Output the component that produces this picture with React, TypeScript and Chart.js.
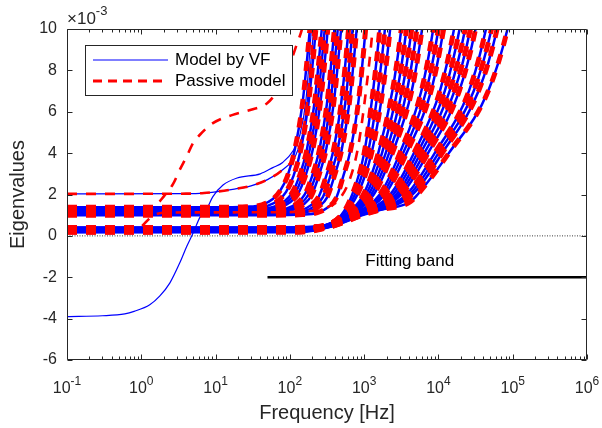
import React, { useEffect, useRef } from 'react';
import { Chart, registerables } from 'chart.js';

Chart.register(...registerables);

type P = [number, number];

const FONT = '"Liberation Sans", Arial, Helvetica, sans-serif';
const TEXT = '#262626';
const AXIS = '#262626';
const BLUE = '#0000ff';
const RED = '#ff0000';

// ---- axis ticks / labels ----
const xDecades = [0.1, 1, 10, 100, 1000, 10000, 100000, 1000000];
const xDecadeExponents = ['-1', '0', '1', '2', '3', '4', '5', '6'];
const yTicks = [-6, -4, -2, 0, 2, 4, 6, 8, 10];
const yMultiplierExponent = '-3';
const legendLabels = ['Model by VF', 'Passive model'];
const bandLabel = 'Fitting band';
const bandLabelAt: P = [4100, -1.25];

// ---- special curves (frequency Hz, eigenvalue x1e-3) ----
const vfCrossing: P[] = [
  [0.1, -3.9], [0.3, -3.86], [0.6, -3.77], [0.8, -3.65], [1.3, -3.33], [1.78, -2.9],
  [2.43, -2.27], [3.3, -1.3], [4.1, -0.5], [5, 0.15], [6.2, 0.92], [7.7, 1.35],
  [9.2, 1.9], [12.6, 2.46], [19.5, 2.8], [40, 3.0], [59, 3.3], [80, 3.55],
  [110, 4.1], [137, 4.9], [165, 6.6], [195, 10], [225, 13],
];
const level2: P[] = [
  [0.1, 2.03], [4, 2.04], [7, 2.07], [10, 2.13], [17, 2.25], [30, 2.42], [50, 2.72],
  [80, 3.2], [120, 3.9], [150, 5.0], [175, 6.8], [200, 9.2], [215, 10.5], [240, 13],
];
const passiveSteep: P[] = [
  [0.1, 1.3], [1.2, 1.3], [1.6, 1.5], [2.0, 1.9], [2.67, 2.5], [3.3, 3.2], [4.1, 3.85],
  [5.0, 4.5], [6.2, 4.9], [9.2, 5.45], [17, 5.85], [30, 6.1], [49, 6.4], [65, 6.9],
  [80, 7.5], [100, 8.3], [125, 9.3], [150, 10.2], [170, 11.5],
];
const passiveMid: P[] = [
  [0.1, 0.3], [0.75, 0.3], [1.0, 0.45], [1.3, 0.85], [1.7, 1.08], [2.5, 1.13], [50, 1.14],
  [150, 1.18], [300, 1.35], [470, 1.8], [650, 2.8], [820, 4.2], [1000, 6.3], [1300, 10], [1500, 13],
];

// ---- first family (rising 100 Hz - 1 kHz) ----
const g1a: P[] = [[0.1, 1.38], [9.3, 1.38], [26, 1.41], [42, 1.5], [59, 1.78], [74, 2.18], [93, 2.9], [117, 4.2], [148, 6.4], [186, 10], [224, 13.5]];
const g1b: P[] = [[0.1, 1.33], [11.2, 1.33], [31.6, 1.36], [50, 1.45], [71, 1.73], [89, 2.13], [112, 2.9], [141, 4.2], [178, 6.4], [224, 10], [269, 13.5]];
const g1c: P[] = [[0.1, 1.28], [13.5, 1.28], [38, 1.31], [60, 1.4], [85, 1.68], [107, 2.08], [135, 2.9], [170, 4.2], [214, 6.4], [269, 10], [324, 13.5]];
const g1cd: P[] = [[0.1, 1.26], [14.8, 1.26], [41.8, 1.29], [65.7, 1.38], [93, 1.66], [117.5, 2.06], [148, 2.9], [186, 4.2], [234.5, 6.4], [295, 10], [355, 13.5]];
const g1d: P[] = [[0.1, 1.24], [16.2, 1.24], [46, 1.27], [72, 1.36], [102, 1.64], [129, 2.04], [162, 2.9], [204, 4.2], [257, 6.4], [324, 10], [389, 13.5]];
const g1e: P[] = [[0.1, 1.19], [20, 1.19], [56, 1.22], [89, 1.31], [126, 1.59], [158, 1.99], [200, 2.9], [251, 4.2], [316, 6.4], [398, 10], [479, 13.5]];
const g1ef: P[] = [[0.1, 1.165], [22.1, 1.165], [62.2, 1.195], [98.9, 1.285], [139.7, 1.565], [175.5, 1.965], [221.4, 2.9], [278.5, 4.2], [350.7, 6.4], [441.6, 10], [531, 13.5]];
const g1f: P[] = [[0.1, 1.14], [24.5, 1.14], [69, 1.17], [110, 1.26], [155, 1.54], [195, 1.94], [245, 2.9], [309, 4.2], [389, 6.4], [490, 10], [589, 13.5]];
const g1g: P[] = [[0.1, 1.1], [31, 1.1], [87, 1.13], [138, 1.22], [195, 1.5], [245, 1.9], [309, 2.9], [389, 4.2], [490, 6.4], [617, 10], [741, 13.5]];
const g1gh: P[] = [[0.1, 1.075], [35.2, 1.075], [98.7, 1.105], [156.7, 1.195], [221.2, 1.475], [278.3, 1.875], [350.7, 2.9], [441.5, 4.2], [556, 6.4], [700, 10], [841, 13.5]];
const g1h: P[] = [[0.1, 1.05], [40, 1.05], [112, 1.08], [178, 1.17], [251, 1.45], [316, 1.85], [398, 2.9], [501, 4.2], [631, 6.4], [794, 10], [955, 13.5]];
const g1i: P[] = [[0.1, 1.0], [52, 1.0], [148, 1.03], [234, 1.12], [331, 1.4], [417, 1.8], [525, 2.9], [661, 4.2], [832, 6.4], [1047, 10], [1259, 13.5]];

// ---- second family (rising 1 kHz - 100 kHz) ----
const g2a: P[] = [[0.1, 0.4], [100, 0.41], [240, 0.45], [490, 1.0], [692, 2.0], [1000, 4.0], [1318, 7.0], [1622, 10], [1950, 13.5]];
const g2ab: P[] = [[0.1, 0.39], [101, 0.4], [245, 0.45], [501, 1.0], [750, 2.0], [1122, 4.0], [1531, 7.0], [1905, 10], [2317, 13.5]];
const g2b: P[] = [[0.1, 0.38], [102, 0.39], [251, 0.45], [513, 1.0], [813, 2.0], [1259, 4.0], [1778, 7.0], [2239, 10], [2754, 13.5]];
const g2c: P[] = [[0.1, 0.36], [105, 0.37], [257, 0.45], [550, 1.0], [977, 2.0], [1549, 4.0], [2399, 7.0], [3162, 10], [3981, 13.5]];
const g2cd: P[] = [[0.1, 0.35], [106, 0.36], [263, 0.45], [562, 1.0], [1059, 2.0], [1738, 4.0], [2786, 7.0], [3715, 10], [4732, 13.5]];
const g2d: P[] = [[0.1, 0.34], [107, 0.35], [269, 0.45], [575, 1.0], [1148, 2.0], [1950, 4.0], [3236, 7.0], [4365, 10], [5623, 13.5]];
const g2de: P[] = [[0.1, 0.33], [108, 0.34], [272, 0.45], [596, 1.0], [1245, 2.0], [2163, 4.0], [3758, 7.0], [5129, 10], [6683, 13.5]];
const g2e: P[] = [[0.1, 0.32], [110, 0.33], [275, 0.45], [617, 1.0], [1349, 2.0], [2399, 4.0], [4365, 7.0], [6026, 10], [7943, 13.5]];
const g2f: P[] = [[0.1, 0.3], [112, 0.31], [288, 0.45], [646, 1.0], [1622, 2.0], [3020, 4.0], [5888, 7.0], [8511, 10], [11482, 13.5]];
const g2fg: P[] = [[0.1, 0.29], [113.5, 0.3], [292, 0.45], [661, 1.0], [1758, 2.0], [3350, 4.0], [6839, 7.0], [10000, 10], [13646, 13.5]];
const g2g: P[] = [[0.1, 0.28], [115, 0.29], [295, 0.45], [676, 1.0], [1905, 2.0], [3715, 4.0], [7943, 7.0], [11749, 10], [16218, 13.5]];
const g2h: P[] = [[0.1, 0.26], [117, 0.27], [309, 0.45], [724, 1.0], [2239, 2.0], [4677, 4.0], [10471, 7.0], [16218, 10], [22909, 13.5]];
const g2hi: P[] = [[0.1, 0.25], [119, 0.26], [313, 0.45], [741, 1.0], [2455, 2.0], [5188, 4.0], [12162, 7.0], [19275, 10], [27542, 13.5]];
const g2i: P[] = [[0.1, 0.245], [120, 0.255], [316, 0.45], [759, 1.0], [2692, 2.0], [5754, 4.0], [14125, 7.0], [22909, 10], [33113, 13.5]];
const g2ij: P[] = [[0.1, 0.237], [122, 0.247], [324, 0.45], [785, 1.0], [2917, 2.0], [6457, 4.0], [16406, 7.0], [26915, 10], [39355, 13.5]];
const g2j: P[] = [[0.1, 0.23], [123, 0.24], [331, 0.45], [813, 1.0], [3162, 2.0], [7244, 4.0], [19055, 7.0], [31623, 10], [46774, 13.5]];
const g2k: P[] = [[0.1, 0.21], [126, 0.22], [339, 0.45], [851, 1.0], [3715, 2.0], [8913, 4.0], [25704, 7.0], [43652, 10], [66069, 13.5]];
const g2kl: P[] = [[0.1, 0.2], [127, 0.21], [347, 0.45], [881, 1.0], [4074, 2.0], [10000, 4.0], [29854, 7.0], [51880, 10], [78524, 13.5]];
const g2l: P[] = [[0.1, 0.19], [129, 0.2], [355, 0.45], [912, 1.0], [4467, 2.0], [11220, 4.0], [34674, 7.0], [61660, 10], [93325, 13.5]];
const g2m: P[] = [[0.1, 0.17], [132, 0.18], [363, 0.45], [955, 1.0], [1622, 1.25], [4200, 1.65], [5248, 2.0], [13804, 4.0], [46774, 7.0], [85114, 10], [131826, 13.5]];

// ---- reference lines ----
const zeroLine: P[] = [[0.1, 0], [1000000, 0]];
const fittingBand: P[] = [[50, -2], [1000000, -2]];

const bundleCurves: P[][] = [
  g1a, g1b, g1c, g1cd, g1d, g1e, g1ef, g1f, g1g, g1gh, g1h, g1i,
  g2a, g2ab, g2b, g2c, g2cd, g2d, g2de, g2e, g2f, g2fg, g2g, g2h, g2hi, g2i, g2ij, g2j, g2k, g2kl, g2l, g2m,
];

const toXY = (pts: P[]) => pts.map(([x, y]) => ({ x, y }));

function line(pts: P[], color: string, width: number, dash: number[], order: number, smooth = true) {
  return {
    data: toXY(pts),
    borderColor: color,
    backgroundColor: color,
    borderWidth: width,
    borderDash: dash,
    borderCapStyle: 'butt',
    borderJoinStyle: 'round',
    pointRadius: 0,
    pointHoverRadius: 0,
    fill: false,
    cubicInterpolationMode: smooth ? 'monotone' : 'default',
    tension: 0,
    order,
    clip: 0,
  };
}

const decorPlugin = {
  id: 'decor',
  afterDatasetsDraw(chart: any) {
    const { ctx, chartArea: a, scales } = chart;
    const xs = scales.x;
    const ys = scales.y;
    const L = Math.round(a.left) + 0.5;
    const R = Math.round(a.right) - 0.5;
    const T = Math.round(a.top) + 0.5;
    const B = Math.round(a.bottom) - 0.5;
    ctx.save();
    ctx.strokeStyle = AXIS;
    ctx.lineWidth = 1;
    ctx.setLineDash([]);
    ctx.beginPath();
    ctx.rect(L, T, R - L, B - T);
    ctx.stroke();
    ctx.beginPath();
    for (const v of yTicks) {
      const py = Math.round(ys.getPixelForValue(v)) + 0.5;
      ctx.moveTo(L, py); ctx.lineTo(L + 5, py);
      ctx.moveTo(R, py); ctx.lineTo(R - 5, py);
    }
    for (let i = 0; i < xDecades.length; i++) {
      const d = xDecades[i];
      const px = Math.round(xs.getPixelForValue(d)) + 0.5;
      ctx.moveTo(px, B); ctx.lineTo(px, B - 5);
      ctx.moveTo(px, T); ctx.lineTo(px, T + 5);
      if (i < xDecades.length - 1) {
        for (let m = 2; m <= 9; m++) {
          const mx = Math.round(xs.getPixelForValue(d * m)) + 0.5;
          ctx.moveTo(mx, B); ctx.lineTo(mx, B - 3);
          ctx.moveTo(mx, T); ctx.lineTo(mx, T + 3);
        }
      }
    }
    ctx.stroke();

    // legend
    const lx = 85, ly = 45, lw = 207, lh = 50;
    ctx.fillStyle = '#ffffff';
    ctx.fillRect(lx, ly, lw, lh);
    ctx.strokeStyle = AXIS;
    ctx.strokeRect(lx + 0.5, ly + 0.5, lw, lh);
    ctx.beginPath();
    ctx.strokeStyle = BLUE;
    ctx.lineWidth = 1.2;
    ctx.moveTo(93, 60); ctx.lineTo(168, 60);
    ctx.stroke();
    ctx.beginPath();
    ctx.strokeStyle = RED;
    ctx.lineWidth = 2.8;
    ctx.setLineDash([9, 6]);
    ctx.moveTo(93, 81); ctx.lineTo(168, 81);
    ctx.stroke();
    ctx.setLineDash([]);
    ctx.fillStyle = '#000000';
    ctx.font = `17px ${FONT}`;
    ctx.textAlign = 'left';
    ctx.textBaseline = 'middle';
    ctx.fillText(legendLabels[0], 175, 60);
    ctx.fillText(legendLabels[1], 175, 81);

    ctx.textAlign = 'center';
    ctx.fillText(bandLabel, xs.getPixelForValue(bandLabelAt[0]), ys.getPixelForValue(bandLabelAt[1]));
    ctx.restore();
  },
  afterDraw(chart: any) {
    const { ctx, chartArea: a, scales } = chart;
    const xs = scales.x;
    ctx.save();
    ctx.fillStyle = TEXT;
    ctx.textBaseline = 'alphabetic';
    ctx.textAlign = 'left';
    for (let i = 0; i < xDecades.length; i++) {
      const px = xs.getPixelForValue(xDecades[i]);
      ctx.font = `16px ${FONT}`;
      const w1 = ctx.measureText('10').width;
      ctx.font = `12px ${FONT}`;
      const w2 = ctx.measureText(xDecadeExponents[i]).width;
      const start = px - (w1 + w2) / 2;
      ctx.font = `16px ${FONT}`;
      ctx.fillText('10', start, a.bottom + 33);
      ctx.font = `12px ${FONT}`;
      ctx.fillText(xDecadeExponents[i], start + w1, a.bottom + 25);
    }
    ctx.font = `17px ${FONT}`;
    const mtxt = '\u00d710';
    ctx.fillText(mtxt, a.left, a.top - 5);
    const mw = ctx.measureText(mtxt).width;
    ctx.font = `13px ${FONT}`;
    ctx.fillText(yMultiplierExponent, a.left + mw, a.top - 14);
    ctx.restore();
  },
};

export default function App() {
  const ref = useRef<HTMLCanvasElement | null>(null);
  useEffect(() => {
    if (!ref.current) return;
    const datasets: any[] = [];
    datasets.push(line(zeroLine, '#3a3a3a', 1, [1, 1.5], 5, false));
    datasets.push(line(fittingBand, '#000000', 2.3, [], 5, false));
    for (const c of bundleCurves) datasets.push(line(c, BLUE, 2.5, [], 3));
    datasets.push(line(vfCrossing, BLUE, 1.2, [], 3));
    datasets.push(line(level2, BLUE, 1.2, [], 3));
    for (const c of bundleCurves) datasets.push(line(c, RED, 5, [10, 9], 1));
    datasets.push(line(level2, RED, 2.6, [10, 9], 1));
    datasets.push(line(passiveSteep, RED, 2.6, [10, 9], 1));
    datasets.push(line(passiveMid, RED, 2.6, [10, 9], 1));

    const chart = new Chart(ref.current, {
      type: 'line',
      data: { datasets },
      options: {
        responsive: false,
        animation: false,
        devicePixelRatio: 1,
        events: [],
        layout: { padding: { top: 29, right: 15, left: 0, bottom: 0 } },
        plugins: { legend: { display: false }, tooltip: { enabled: false } },
        scales: {
          x: {
            type: 'logarithmic',
            min: 0.1,
            max: 1000000,
            grid: { display: false, drawTicks: false },
            border: { display: false },
            ticks: { display: false },
            title: {
              display: true, text: 'Frequency [Hz]', color: TEXT,
              font: { family: FONT, size: 20 }, padding: { top: 0, bottom: 3 },
            },
            afterFit: (s: any) => { s.height = 68; },
          },
          y: {
            type: 'linear',
            min: -6,
            max: 10,
            afterBuildTicks: (s: any) => { s.ticks = yTicks.map((v) => ({ value: v })); },
            grid: { display: false, drawTicks: false },
            border: { display: false },
            ticks: { color: TEXT, font: { family: FONT, size: 16 }, padding: 10, callback: (v: any) => String(v) },
            title: {
              display: true, text: 'Eigenvalues', color: TEXT,
              font: { family: FONT, size: 20 }, padding: { top: 6, bottom: 0 },
            },
            afterFit: (s: any) => { s.width = 67; },
          },
        },
      } as any,
      plugins: [decorPlugin],
    });
    return () => chart.destroy();
  }, []);
  return (
    <div style={{ position: 'absolute', left: 0, top: 0, width: 602, height: 428, background: '#fff' }}>
      <canvas ref={ref} width={602} height={428} style={{ display: 'block' }} />
    </div>
  );
}
